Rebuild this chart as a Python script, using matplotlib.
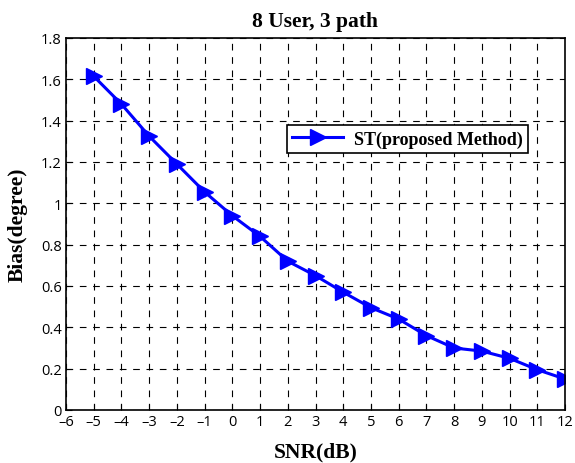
import matplotlib
matplotlib.use("Agg")
import matplotlib.pyplot as plt

snr = [-5, -4, -3, -2, -1, 0, 1, 2, 3, 4, 5, 6, 7, 8, 9, 10, 11, 12]
bias = [1.615, 1.48, 1.325, 1.19, 1.055, 0.94, 0.84, 0.72, 0.65, 0.57, 0.495, 0.44, 0.36, 0.30, 0.285, 0.25, 0.195, 0.15]
xticks = list(range(-6, 13))
yticks = [0, 0.2, 0.4, 0.6, 0.8, 1, 1.2, 1.4, 1.6, 1.8]
ytick_labels = ["0", "0.2", "0.4", "0.6", "0.8", "1", "1.2", "1.4", "1.6", "1.8"]

fig = plt.figure(figsize=(5.75, 4.64), dpi=100)
ax = fig.add_axes([66/575, 1 - 411/464, (565-66)/575, (411-39)/464])

ax.plot(snr, bias, color="#0000ff", lw=2.2, marker=">", markersize=11,
        markerfacecolor="#0000ff", markeredgecolor="#0000ff", label="ST(proposed Method)")

ax.set_xlim(-6, 12)
ax.set_ylim(0, 1.8)
ax.set_xticks(xticks)
ax.set_xticklabels([str(t).replace("-", "\u2013") for t in xticks], family="Open Sans", fontsize=10.5)
ax.set_yticks(yticks)
ax.set_yticklabels(ytick_labels, family="Open Sans", fontsize=10.5)
ax.tick_params(direction="in", length=4, width=0.8, colors="black", pad=3)
ax.grid(True, color="black", linestyle=(0, (6, 6)), linewidth=0.8)
for s in ax.spines.values():
    s.set_linewidth(1.2)

ax.set_title("8 User, 3 path", family="Liberation Serif", fontweight="bold", fontsize=15.5, pad=9)
ax.set_xlabel("SNR(dB)", family="Liberation Serif", fontweight="bold", fontsize=15.5, labelpad=9)
ax.set_ylabel("Bias(degree)", family="Liberation Serif", fontweight="bold", fontsize=15.5, labelpad=10)

leg = ax.legend(loc="upper left", bbox_to_anchor=((287-66)/499, 1 - (126-39)/372),
                prop={"family": "Liberation Serif", "weight": "bold", "size": 13},
                fancybox=False, framealpha=1, edgecolor="black", borderpad=0.3,
                handlelength=2.8, handletextpad=0.6, borderaxespad=0)
leg.get_frame().set_linewidth(1.2)

fig.savefig("out.png", dpi=100)
